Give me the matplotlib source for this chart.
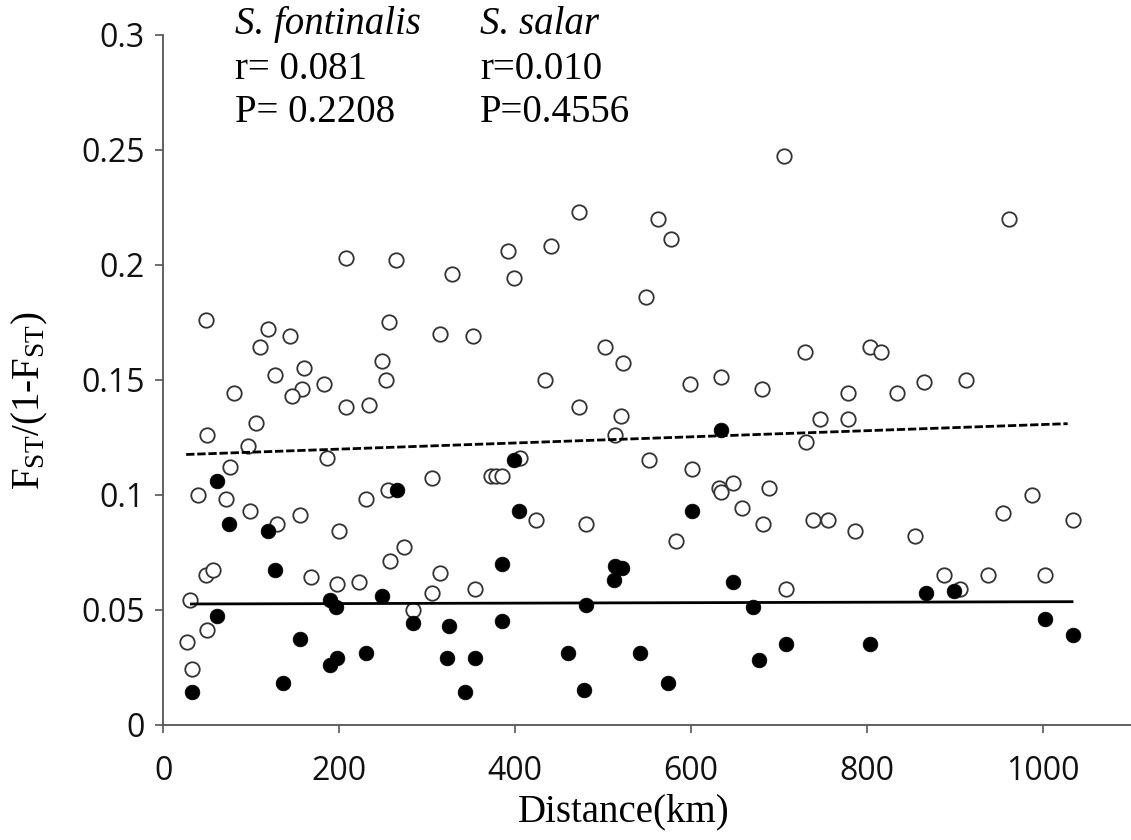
import matplotlib
matplotlib.use("Agg")
import matplotlib.pyplot as plt

# S. fontinalis (open circles)
font_km = [208, 264, 328, 49, 256, 119, 144, 314, 352, 110, 160, 249, 127, 253, 80, 158, 183, 146,
           208, 234, 105, 50,
           705, 472, 562, 577, 392, 441, 399, 549, 502, 522, 729, 434, 599, 634, 680, 472, 520, 514,
           961, 803, 816, 778, 834, 865, 913, 746, 778, 730,
           96, 186, 76, 40, 71, 98, 129, 155, 200, 230, 255, 305, 372, 378, 385, 258, 274, 314, 168,
           197, 223, 354, 305, 48, 56, 30, 284, 50, 27, 33,
           405, 552, 601, 424, 481, 583, 632, 634, 648, 688, 658, 682, 708,
           738, 756, 786, 855, 888, 906, 938, 954, 987, 1034, 1002]
font_fst = [0.203, 0.202, 0.196, 0.176, 0.175, 0.172, 0.169, 0.170, 0.169, 0.164, 0.155, 0.158, 0.152,
            0.150, 0.144, 0.146, 0.148, 0.143, 0.138, 0.139, 0.131, 0.126,
            0.247, 0.223, 0.220, 0.211, 0.206, 0.208, 0.194, 0.186, 0.164, 0.157, 0.162, 0.150, 0.148,
            0.151, 0.146, 0.138, 0.134, 0.126,
            0.220, 0.164, 0.162, 0.144, 0.144, 0.149, 0.150, 0.133, 0.133, 0.123,
            0.121, 0.116, 0.112, 0.100, 0.098, 0.093, 0.087, 0.091, 0.084, 0.098, 0.102, 0.107, 0.108,
            0.108, 0.108, 0.071, 0.077, 0.066, 0.064, 0.061, 0.062, 0.059, 0.057, 0.065, 0.067, 0.054,
            0.050, 0.041, 0.036, 0.024,
            0.116, 0.115, 0.111, 0.089, 0.087, 0.080, 0.103, 0.101, 0.105, 0.103, 0.094, 0.087, 0.059,
            0.089, 0.089, 0.084, 0.082, 0.065, 0.059, 0.065, 0.092, 0.100, 0.089, 0.065]

# S. salar (filled circles)
salar_km = [61, 75, 119, 266, 127, 189, 196, 249, 61, 284, 325, 155, 197, 189, 230, 323, 354, 136, 33, 343,
            399, 404, 601, 385, 514, 521, 512, 648, 481, 670, 385, 460, 542, 708, 677, 574, 478, 634,
            867, 899, 1002, 1034, 803]
salar_fst = [0.106, 0.087, 0.084, 0.102, 0.067, 0.054, 0.051, 0.056, 0.047, 0.044, 0.043, 0.037, 0.029,
             0.026, 0.031, 0.029, 0.029, 0.018, 0.014, 0.014,
             0.115, 0.093, 0.093, 0.070, 0.069, 0.068, 0.063, 0.062, 0.052, 0.051, 0.045, 0.031, 0.031,
             0.035, 0.028, 0.018, 0.015, 0.128,
             0.057, 0.058, 0.046, 0.039, 0.035]

# regression lines (end points)
font_fit_km = [26, 1028]
font_fit = [0.1174, 0.1308]
salar_fit_km = [32, 1033]
salar_fit = [0.0524, 0.0534]

x_ticks = [0, 200, 400, 600, 800, 1000]
y_ticks = [0, 0.05, 0.1, 0.15, 0.2, 0.25, 0.3]
y_tick_labels = ["0", "0.05", "0.1", "0.15", "0.2", "0.25", "0.3"]

plt.rcParams['mathtext.fontset'] = 'custom'
plt.rcParams['mathtext.rm'] = 'Liberation Serif'
plt.rcParams['mathtext.it'] = 'Liberation Serif:italic'

fig = plt.figure(figsize=(11.31, 8.40), dpi=100)
ax = fig.add_axes([163.3 / 1131, 115.5 / 840, (1131 - 163.3) / 1131, 690 / 840])

ax.plot(font_km, font_fst, 'o', ms=10.4, mfc='white', mec='#333333', mew=1.3, zorder=2, clip_on=False)
ax.plot(font_fit_km, font_fit, color='black', lw=2.0, dashes=(3, 1), zorder=3)
ax.plot(salar_fit_km, salar_fit, color='black', lw=2.0, zorder=3)
ax.plot(salar_km, salar_fst, 'o', ms=10.6, mfc='black', mec='black', mew=0.5, zorder=4, clip_on=False)

ax.set_xlim(0, 1100)
ax.set_ylim(0, 0.3)
ax.set_xticks(x_ticks)
ax.set_yticks(y_ticks)
ax.set_yticklabels(y_tick_labels)
for s in ['top', 'right']:
    ax.spines[s].set_visible(False)
for s in ['left', 'bottom']:
    ax.spines[s].set_color('#555555')
    ax.spines[s].set_linewidth(1.3)
ax.tick_params(direction='out', length=5.8, width=1.2, color='#555555', labelsize=23)
ax.tick_params(axis='x', pad=16)
ax.tick_params(axis='y', pad=7.5)
for lab in ax.get_xticklabels() + ax.get_yticklabels():
    lab.set_family('Open Sans')
    lab.set_color('#111111')

ax.set_xlabel('Distance(km)', fontsize=28, family='Liberation Serif')
ax.xaxis.set_label_coords((624 - 163.3) / (1131 - 163.3), -0.1)
ax.set_ylabel(r'$\mathregular{F_{ST}/(1}$-$\mathregular{F_{ST})}$', fontsize=28, family='Liberation Serif')
ax.yaxis.set_label_coords(-0.117, 0.47)

ts = dict(fontsize=28, family='Liberation Serif', va='baseline', ha='left', clip_on=False)
ax.text(81.5, 0.3004, 'S. fontinalis', style='italic', **ts)
ax.text(81.5, 0.2808, 'r= 0.081', **ts)
ax.text(81.5, 0.2621, 'P= 0.2208', **ts)
ax.text(360, 0.3004, 'S. salar', style='italic', **ts)
ax.text(360, 0.2808, 'r=0.010', **ts)
ax.text(360, 0.2621, 'P=0.4556', **ts)

fig.savefig('out.png', dpi=100)
